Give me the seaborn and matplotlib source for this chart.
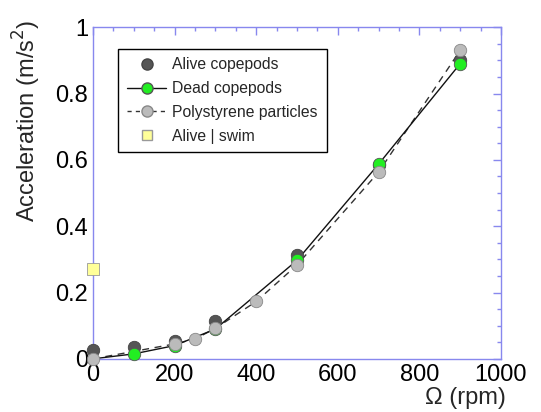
import matplotlib
matplotlib.use("Agg")
import matplotlib.pyplot as plt
import seaborn as sns
import pandas as pd
from matplotlib.lines import Line2D
from matplotlib.ticker import MultipleLocator, FuncFormatter

sns.set_style("white")
plt.rcParams['font.family'] = ['Liberation Sans', 'DejaVu Sans']

alive_x = [0, 100, 200, 300, 500, 700, 900]
alive_y = [0.027, 0.037, 0.053, 0.115, 0.313, 0.585, 0.90]
dead_x = [0, 100, 200, 300, 500, 700, 900]
dead_y = [0.0, 0.015, 0.040, 0.090, 0.297, 0.587, 0.890]
poly_x = [0, 200, 250, 300, 400, 500, 700, 900]
poly_y = [0.0, 0.045, 0.060, 0.092, 0.173, 0.283, 0.563, 0.930]
swim_x = [0]
swim_y = [0.272]

fig = plt.figure(figsize=(5.41, 4.12), dpi=100)
ax = fig.add_axes([0.172, 0.129, 0.754, 0.805])

blue = "#8888ee"
ms = 80
sns.lineplot(x=poly_x, y=poly_y, ax=ax, color="#333333", lw=1.0, linestyle=(0, (5, 4)), zorder=2)
sns.lineplot(x=dead_x, y=dead_y, ax=ax, color="#111111", lw=1.0, zorder=2)
sns.scatterplot(x=alive_x, y=alive_y, ax=ax, color="#555555", edgecolor="#444444", s=ms, linewidth=0.6, zorder=3, clip_on=False)
sns.scatterplot(x=dead_x[1:], y=dead_y[1:], ax=ax, color="#22ee22", edgecolor="#555555", s=ms, linewidth=0.6, zorder=4, clip_on=False)
sns.scatterplot(x=poly_x, y=poly_y, ax=ax, color="#bbbbbb", edgecolor="#888888", s=ms, linewidth=0.6, zorder=5, clip_on=False)
sns.scatterplot(x=swim_x, y=swim_y, ax=ax, color="#ffff99", edgecolor="#999999", marker="s", s=70, linewidth=0.6, zorder=6, clip_on=False)

ax.set_xlim(0, 1000)
ax.set_ylim(0, 1)
ax.xaxis.set_major_locator(MultipleLocator(200))
ax.xaxis.set_minor_locator(MultipleLocator(50))
ax.yaxis.set_major_locator(MultipleLocator(0.2))
ax.yaxis.set_minor_locator(MultipleLocator(0.05))
ax.yaxis.set_major_formatter(FuncFormatter(lambda v, p: "0" if abs(v) < 1e-9 else ("1" if abs(v-1) < 1e-9 else f"{v:.1f}")))
ax.tick_params(which="both", direction="in", top=True, right=True, color=blue, labelsize=17, labelcolor="black")
ax.tick_params(which="major", length=6, width=1)
ax.tick_params(which="minor", length=3, width=1)
for s in ax.spines.values():
    s.set_color(blue)
    s.set_linewidth(1.0)

ax.set_xlabel("Ω (rpm)", fontsize=17, ha="right")
ax.xaxis.set_label_coords(1.012, -0.085)
ax.set_ylabel("Acceleration (m/s$^2$)", fontsize=17, ha="right", va="center")
ax.yaxis.set_label_coords(-0.162, 1.022)

handles = [
    Line2D([], [], ls="none", marker="o", ms=8, mfc="#555555", mec="#444444"),
    Line2D([], [], color="#111111", lw=1, marker="o", ms=8, mfc="#22ee22", mec="#555555"),
    Line2D([], [], color="#333333", lw=1, ls=(0, (3, 3)), marker="o", ms=8, mfc="#bbbbbb", mec="#888888"),
    Line2D([], [], ls="none", marker="s", ms=7, mfc="#ffff99", mec="#999999"),
]
labels = ["Alive copepods", "Dead copepods", "Polystyrene particles", "Alive | swim"]
leg = ax.legend(handles, labels, loc="upper left", bbox_to_anchor=(0.062, 0.935), fontsize=11.3,
                frameon=True, fancybox=False, edgecolor="black", framealpha=1,
                borderpad=0.55, labelspacing=0.56, handlelength=2.5, handletextpad=0.4,
                borderaxespad=0)
leg.get_frame().set_linewidth(1.0)

fig.savefig("out.png", dpi=100)
